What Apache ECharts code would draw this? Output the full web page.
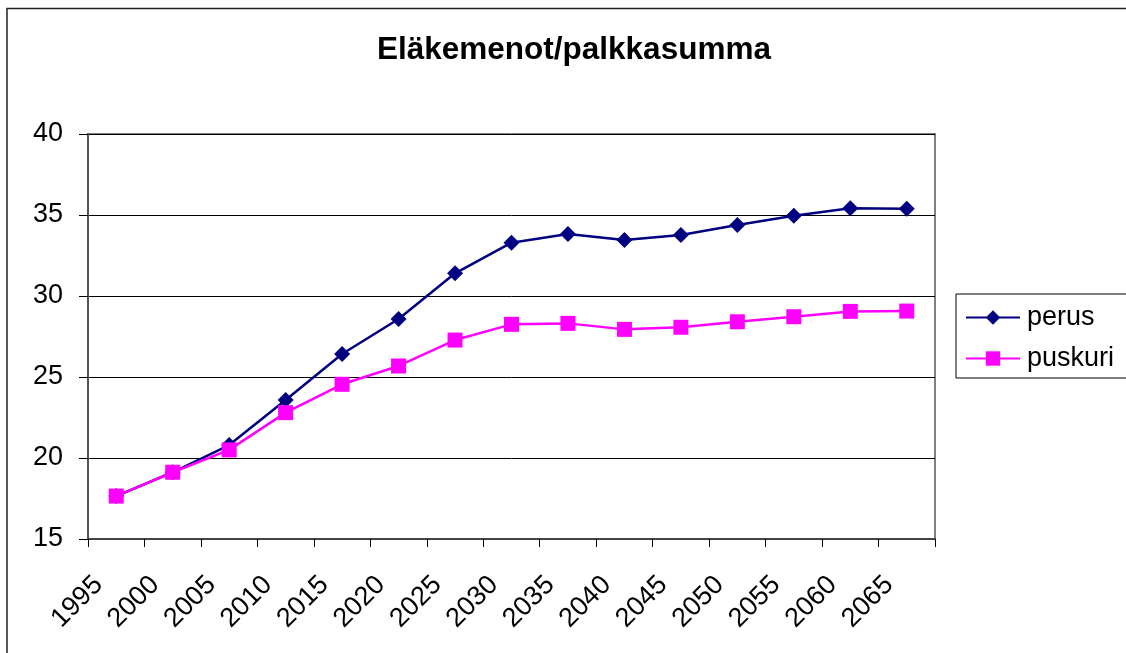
<!DOCTYPE html>
<html>
<head>
<meta charset="utf-8">
<script src="https://cdn.jsdelivr.net/npm/echarts@6/dist/echarts.min.js"></script>
<style>
  html, body { margin: 0; padding: 0; background: #fff; }
  #chart { width: 1126px; height: 653px; }
</style>
</head>
<body>
<div id="chart"></div>
<script>
// vuodet
const years = ["1995", "2000", "2005", "2010", "2015", "2020", "2025", "2030",
  "2035", "2040", "2045", "2050", "2055", "2060", "2065"];
const perus = [17.65, 19.12, 20.8, 23.58, 26.42, 28.58, 31.4, 33.29,
  33.83, 33.46, 33.77, 34.38, 34.96, 35.41, 35.39];
const puskuri = [17.65, 19.12, 20.5, 22.8, 24.55, 25.68, 27.28, 28.25,
  28.31, 27.94, 28.07, 28.41, 28.72, 29.05, 29.07];
const yTicks = [15, 20, 25, 30, 35, 40];

const font = "'Liberation Sans', Arial, sans-serif";
const chart = echarts.init(document.getElementById("chart"));

chart.setOption({
  animation: false,
  backgroundColor: "#fff",
  textStyle: { fontFamily: font, color: "#000" },
  graphic: [
    {
      type: "rect",
      shape: { x: 7, y: 8.5, width: 1200, height: 700 },
      style: { fill: "none", stroke: "#222", lineWidth: 1.5 },
      silent: true
    }
  ],
  title: {
    text: "Eläkemenot/palkkasumma",
    left: 372,
    top: 29,
    textStyle: { fontFamily: font, fontSize: 31.5, fontWeight: "bold", color: "#000" }
  },
  legend: {
    orient: "vertical",
    left: 956,
    top: 294,
    padding: [10, 40, 6, 9],
    itemGap: 14,
    itemWidth: 54,
    itemHeight: 18,
    borderColor: "#000",
    borderWidth: 1,
    textStyle: { fontFamily: font, fontSize: 27, color: "#000", padding: [0, 0, 0, 2] },
    data: ["perus", "puskuri"]
  },
  grid: {
    left: 88,
    right: 191,
    top: 134,
    bottom: 114,
    show: true,
    borderColor: "#808080",
    borderWidth: 2
  },
  xAxis: {
    type: "category",
    data: years,
    boundaryGap: true,
    axisLine: { lineStyle: { color: "#444", width: 2 } },
    axisTick: { show: true, length: 8, lineStyle: { color: "#000", width: 1 } },
    axisLabel: {
      rotate: 45,
      margin: 24,
      interval: 0,
      padding: [0, 25, 0, 0],
      fontFamily: font,
      fontSize: 27,
      color: "#000"
    }
  },
  yAxis: {
    type: "value",
    min: yTicks[0],
    max: yTicks[yTicks.length - 1],
    interval: 5,
    axisLine: { show: true, lineStyle: { color: "#555", width: 2 } },
    axisTick: { show: true, length: 9, lineStyle: { color: "#000", width: 1 } },
    axisLabel: { margin: 25, fontFamily: font, fontSize: 27, color: "#000" },
    splitLine: { lineStyle: { color: "#000", width: 1 } }
  },
  series: [
    {
      name: "perus",
      type: "line",
      data: perus,
      symbol: "diamond",
      symbolSize: 16,
      itemStyle: { color: "#000080" },
      lineStyle: { color: "#000080", width: 2.5 },
      z: 3
    },
    {
      name: "puskuri",
      type: "line",
      data: puskuri,
      symbol: "rect",
      symbolSize: 15,
      itemStyle: { color: "#ff00ff" },
      lineStyle: { color: "#ff00ff", width: 2.5 },
      z: 4
    }
  ]
});
</script>
</body>
</html>
